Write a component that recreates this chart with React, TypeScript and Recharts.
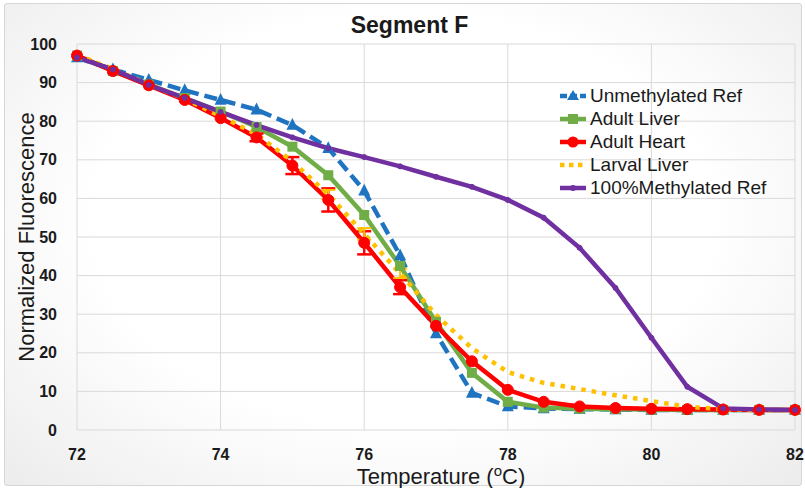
import React from 'react';
import { LineChart, Line, XAxis, YAxis, CartesianGrid, ErrorBar, Legend } from 'recharts';

const temps = [72, 72.5, 73, 73.5, 74, 74.5, 75, 75.5, 76, 76.5, 77, 77.5, 78, 78.5, 79, 79.5, 80, 80.5, 81, 81.5, 82];
const unmethylated = [96.5, 93.4, 90.7, 88, 85.5, 83, 79, 73, 62, 45.2, 25, 9.6, 6.1, 5.6, 5.4, 5.3, 5.2, 5.2, 5.2, 5.2, 5.2];
const adultLiver = [97, 93, 89.5, 86, 82.5, 78.5, 73.4, 66, 55.7, 42.5, 28, 14.8, 7.3, 5.8, 5.5, 5.4, 5.3, 5.2, 5.2, 5.2, 5.2];
const adultHeart = [97, 93, 89.3, 85.5, 80.8, 75.8, 68.5, 59.6, 48.5, 37, 27, 17.8, 10.4, 7.3, 6.1, 5.7, 5.5, 5.4, 5.3, 5.2, 5.2];
const adultHeartErr = [0, 0, 0, 0, 0, 1, 2.2, 3, 3, 1.8, 0, 0, 0, 0, 0, 0, 0, 0, 0, 0, 0];
const larvalLiver = [97.2, 93.5, 89.6, 85.8, 81.3, 76.6, 69.6, 61, 50.8, 40.6, 29.8, 21.2, 15, 12.2, 10.6, 9, 7.5, 6, 5.4, 5.2, 5.2];
const larvalLiverErr = [0, 0, 0, 0, 0, 0, 0, 1.2, 1.5, 1.2, 0, 0, 0, 0, 0, 0, 0, 0, 0, 0, 0];
const methylated = [96.5, 93.4, 89.4, 86, 82.4, 79, 75.8, 73, 70.7, 68.3, 65.6, 63, 59.6, 55, 47.2, 36.8, 23.9, 11.2, 5.6, 5.3, 5.2];
const xTicks = [72, 74, 76, 78, 80, 82];
const yTicks = [0, 10, 20, 30, 40, 50, 60, 70, 80, 90, 100];

const BLUE = '#1f74c2';
const GREEN = '#70ad47';
const RED = '#ff0000';
const YELLOW = '#ffc000';
const PURPLE = '#7030a0';
const FONT = '"Liberation Sans", Arial, sans-serif';

const data = temps.map((t, i) => ({
  t,
  unmethylated: unmethylated[i],
  adultLiver: adultLiver[i],
  adultHeart: adultHeart[i],
  adultHeartErr: adultHeartErr[i],
  larvalLiver: larvalLiver[i],
  larvalLiverErr: larvalLiverErr[i],
  methylated: methylated[i],
}));

const TriangleDot = (props: any) => {
  const { cx, cy, index } = props;
  if (cx == null || cy == null) return <g key={`tri-${index}`} />;
  const s = 6;
  return (
    <polygon
      key={`tri-${index}`}
      points={`${cx},${cy - s - 1} ${cx + s},${cy + s * 0.8} ${cx - s},${cy + s * 0.8}`}
      fill={BLUE}
    />
  );
};

const SquareDot = (props: any) => {
  const { cx, cy, index } = props;
  if (cx == null || cy == null) return <g key={`sq-${index}`} />;
  return <rect key={`sq-${index}`} x={cx - 5} y={cy - 5} width={10} height={10} fill={GREEN} />;
};

const legendItems = [
  { name: 'Unmethylated Ref', color: BLUE, dash: '7 3', marker: 'triangle' },
  { name: 'Adult Liver', color: GREEN, dash: undefined, marker: 'square' },
  { name: 'Adult Heart', color: RED, dash: undefined, marker: 'circle' },
  { name: 'Larval Liver', color: YELLOW, dash: '4.5 4.5', marker: 'none' },
  { name: '100%Methylated Ref', color: PURPLE, dash: undefined, marker: 'small' },
];

const renderLegend = () => (
  <div style={{ fontFamily: FONT, fontSize: 19, color: '#1a1a1a' }}>
    {legendItems.map((item) => (
      <div key={item.name} style={{ display: 'flex', alignItems: 'center', height: 23 }}>
        <svg width={30} height={16} style={{ marginRight: 2 }}>
          <line x1={2} y1={8} x2={28} y2={8} stroke={item.color} strokeWidth={4.5} strokeDasharray={item.dash} />
          {item.marker === 'triangle' && <polygon points="15,2 21,12 9,12" fill={item.color} />}
          {item.marker === 'square' && <rect x={10} y={3} width={10} height={10} fill={item.color} />}
          {item.marker === 'circle' && <circle cx={15} cy={8} r={5.5} fill={item.color} />}
          {item.marker === 'small' && <circle cx={15} cy={8} r={3} fill={item.color} />}
        </svg>
        <span style={{ lineHeight: '23px', whiteSpace: 'nowrap' }}>{item.name}</span>
      </div>
    ))}
  </div>
);

const YLabel = (props: any) => {
  const vb = props.viewBox;
  const cx = 26;
  const cy = vb.y + vb.height / 2;
  return (
    <text
      x={cx}
      y={cy}
      transform={`rotate(-90 ${cx} ${cy})`}
      textAnchor="middle"
      dominantBaseline="central"
      fontFamily={FONT}
      fontSize={22}
      fill="#1a1a1a"
    >
      Normalized Fluorescence
    </text>
  );
};

const XLabel = (props: any) => {
  const vb = props.viewBox;
  const cx = vb.x + vb.width / 2 + 5;
  return (
    <text x={cx} y={484} textAnchor="middle" fontFamily={FONT} fontSize={22} fill="#1a1a1a">
      Temperature (
      <tspan fontSize={15} dy={-8}>o</tspan>
      <tspan dy={8}>C)</tspan>
    </text>
  );
};

export default function App() {
  return (
    <div style={{ position: 'absolute', left: 0, top: 0, width: 805, height: 488, background: '#ffffff' }}>
      <div
        style={{
          position: 'absolute',
          left: 4,
          top: 3,
          width: 796,
          height: 481,
          border: '1px solid #d6d6d6',
          borderRadius: 3,
          background: 'radial-gradient(ellipse at 50% 45%, #ffffff 55%, #ececec 100%)',
        }}
      />
      <div
        style={{
          position: 'absolute',
          left: 0,
          width: 805,
          top: 12,
          textAlign: 'center',
          fontFamily: FONT,
          fontWeight: 700,
          fontSize: 23,
          color: '#1a1a1a',
          paddingLeft: 14,
          boxSizing: 'border-box',
        }}
      >
        Segment F
      </div>
      <div style={{ position: 'absolute', left: 0, top: 0 }}>
        <LineChart width={805} height={488} data={data} margin={{ top: 44, right: 10, left: 0, bottom: 28 }}>
          <CartesianGrid stroke="#d9d9d9" strokeWidth={1} />
          <XAxis
            dataKey="t"
            type="number"
            domain={[72, 82]}
            ticks={xTicks}
            height={30}
            tickSize={0}
            tickMargin={19}
            axisLine={false}
            tick={{ fontSize: 16, fontWeight: 700, fill: '#1a1a1a', fontFamily: FONT }}
            label={{ content: XLabel }}
          />
          <YAxis
            type="number"
            domain={[0, 100]}
            ticks={yTicks}
            width={77}
            tickSize={0}
            tickMargin={20}
            axisLine={false}
            tick={{ fontSize: 16, fontWeight: 700, fill: '#1a1a1a', fontFamily: FONT }}
            label={{ content: YLabel }}
          />
          <Legend
            layout="horizontal"
            verticalAlign="middle"
            align="center"
            content={renderLegend}
            wrapperStyle={{ top: 84, left: 558, right: 'auto', bottom: 'auto', width: 240 }}
          />
          <Line
            dataKey="unmethylated"
            name="Unmethylated Ref"
            stroke={BLUE}
            strokeWidth={4.5}
            strokeDasharray="13 6"
            dot={TriangleDot}
            activeDot={false}
            isAnimationActive={false}
          />
          <Line
            dataKey="adultLiver"
            name="Adult Liver"
            stroke={GREEN}
            strokeWidth={4.5}
            dot={SquareDot}
            activeDot={false}
            isAnimationActive={false}
          />
          <Line
            dataKey="adultHeart"
            name="Adult Heart"
            stroke={RED}
            strokeWidth={4.5}
            dot={{ r: 5.5, fill: RED, stroke: RED, strokeWidth: 1 }}
            activeDot={false}
            isAnimationActive={false}
          >
            <ErrorBar dataKey="adultHeartErr" direction="y" width={7} stroke={RED} strokeWidth={2.5} />
          </Line>
          <Line
            dataKey="larvalLiver"
            name="Larval Liver"
            stroke={YELLOW}
            strokeWidth={4.5}
            strokeDasharray="4.5 6"
            dot={false}
            activeDot={false}
            isAnimationActive={false}
          >
            <ErrorBar dataKey="larvalLiverErr" direction="y" width={7} stroke={YELLOW} strokeWidth={2} />
          </Line>
          <Line
            dataKey="methylated"
            name="100%Methylated Ref"
            stroke={PURPLE}
            strokeWidth={4.5}
            dot={{ r: 2.5, fill: PURPLE, stroke: PURPLE, strokeWidth: 1 }}
            activeDot={false}
            isAnimationActive={false}
          />
        </LineChart>
      </div>
    </div>
  );
}
